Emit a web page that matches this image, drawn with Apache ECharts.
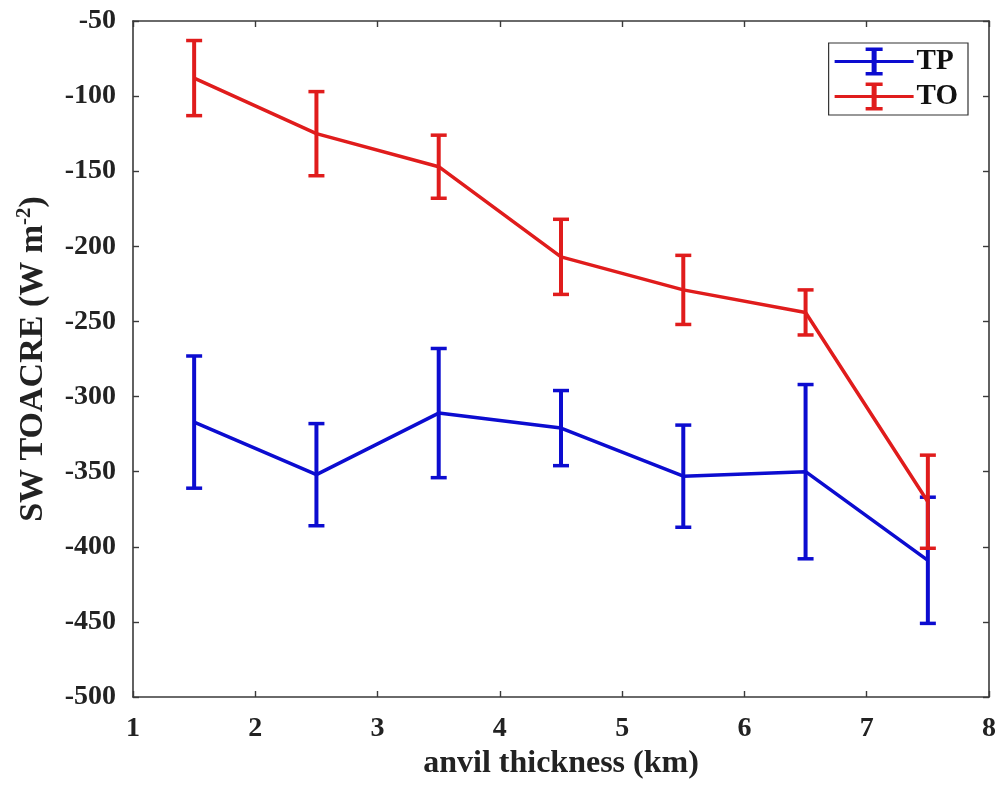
<!DOCTYPE html>
<html>
<head>
<meta charset="utf-8">
<script src="https://cdn.jsdelivr.net/npm/echarts@6/dist/echarts.min.js"></script>
<style>html,body{margin:0;padding:0;background:#fff}#c{width:1003px;height:793px}</style>
</head>
<body>
<div id="c"></div>
<script>
const xs = [1.5, 2.5, 3.5, 4.5, 5.5, 6.5, 7.5];
const tpMean = [-317, -352, -311, -321, -353, -350, -409];
const tpErr  = [44, 34, 43, 25, 34, 58, 42];
const toMean = [-88, -125, -147, -207, -229, -244, -370];
const toErr  = [25, 28, 21, 25, 23, 15, 31];
const xTicks = [1, 2, 3, 4, 5, 6, 7, 8];
const yTicks = [-500, -450, -400, -350, -300, -250, -200, -150, -100, -50];

const BLUE = '#0c0cd0';
const RED = '#e01c1c';
const FONT = '"Liberation Serif", "Times New Roman", serif';
const AXC = '#3a3a3a';

function pairs(m) { return xs.map((x, i) => [x, m[i]]); }
function errData(m, e) { return xs.map((x, i) => [x, m[i] - e[i], m[i] + e[i]]); }

function errRender(color) {
  return function (params, api) {
    const x = api.value(0);
    const lo = api.coord([x, api.value(1)]);
    const hi = api.coord([x, api.value(2)]);
    const w = 8;
    const st = { stroke: color, lineWidth: 4 };
    const cs = { stroke: color, lineWidth: 3.5 };
    return {
      type: 'group',
      children: [
        { type: 'line', shape: { x1: lo[0], y1: lo[1], x2: hi[0], y2: hi[1] }, style: st },
        { type: 'line', shape: { x1: lo[0] - w, y1: lo[1], x2: lo[0] + w, y2: lo[1] }, style: cs },
        { type: 'line', shape: { x1: hi[0] - w, y1: hi[1], x2: hi[0] + w, y2: hi[1] }, style: cs }
      ]
    };
  };
}

const ICON = 'path://M0 12.5H79V15.5H0Z M37 0H42V28H37Z M31 0H48V3.5H31Z M31 24.5H48V28H31Z';

const axisCommon = {
  axisLine: { show: true, lineStyle: { color: AXC, width: 1.6 } },
  axisTick: { show: true, inside: true, length: 6, lineStyle: { color: AXC, width: 1.4 } },
  splitLine: { show: false }
};

const chart = echarts.init(document.getElementById('c'), null, { renderer: 'canvas' });
chart.setOption({
  animation: false,
  backgroundColor: '#fff',
  grid: { left: 133, right: 14, top: 21, bottom: 96, containLabel: false },
  legend: {
    orient: 'vertical',
    right: 35, top: 43,
    data: [{ name: 'TP', icon: ICON }, { name: 'TO', icon: ICON }],
    itemWidth: 79, itemHeight: 28, itemGap: 6,
    padding: [4, 10, 4, 6],
    borderColor: '#333', borderWidth: 1.2,
    backgroundColor: '#fff',
    itemStyle: { borderWidth: 0 },
    textStyle: { fontFamily: FONT, fontWeight: 'bold', fontSize: 29, color: '#111', padding: [0, 0, 0, -2] },
    selectedMode: false
  },
  xAxis: [
    Object.assign({
      type: 'value', min: xTicks[0], max: xTicks[xTicks.length - 1], interval: 1,
      position: 'bottom',
      name: 'anvil thickness (km)', nameLocation: 'middle', nameGap: 44,
      nameTextStyle: { fontFamily: FONT, fontWeight: 'bold', fontSize: 32, color: '#222' },
      axisLabel: { margin: 18, fontFamily: FONT, fontWeight: 'bold', fontSize: 28, color: '#222' }
    }, axisCommon),
    Object.assign({
      type: 'value', min: xTicks[0], max: xTicks[xTicks.length - 1], interval: 1,
      position: 'top', axisLabel: { show: false }
    }, axisCommon)
  ],
  yAxis: [
    Object.assign({
      type: 'value', min: yTicks[0], max: yTicks[yTicks.length - 1], interval: 50,
      position: 'left',
      name: '{m|SW TOACRE (W m}{s|-2}{m|)}', nameLocation: 'middle', nameGap: 80, nameRotate: 90,
      nameTextStyle: {
        fontFamily: FONT, fontWeight: 'bold', fontSize: 34, color: '#222',
        rich: {
          m: { fontFamily: FONT, fontWeight: 'bold', fontSize: 34, color: '#222' },
          s: { fontFamily: FONT, fontWeight: 'bold', fontSize: 21, color: '#222', padding: [0, 0, 18, 0] }
        }
      },
      axisLabel: { margin: 17, fontFamily: FONT, fontWeight: 'bold', fontSize: 28, color: '#222' }
    }, axisCommon),
    Object.assign({
      type: 'value', min: yTicks[0], max: yTicks[yTicks.length - 1], interval: 50,
      position: 'right', axisLabel: { show: false }
    }, axisCommon)
  ],
  series: [
    { name: 'TP', type: 'line', data: pairs(tpMean), showSymbol: false, symbol: 'none',
      lineStyle: { color: BLUE, width: 3.5 }, itemStyle: { color: BLUE }, z: 2 },
    { name: 'TP-err', type: 'custom', data: errData(tpMean, tpErr), renderItem: errRender(BLUE),
      encode: { x: 0, y: [1, 2] }, z: 3 },
    { name: 'TO', type: 'line', data: pairs(toMean), showSymbol: false, symbol: 'none',
      lineStyle: { color: RED, width: 3.5 }, itemStyle: { color: RED }, z: 4 },
    { name: 'TO-err', type: 'custom', data: errData(toMean, toErr), renderItem: errRender(RED),
      encode: { x: 0, y: [1, 2] }, z: 5 }
  ]
});
</script>
</body>
</html>
